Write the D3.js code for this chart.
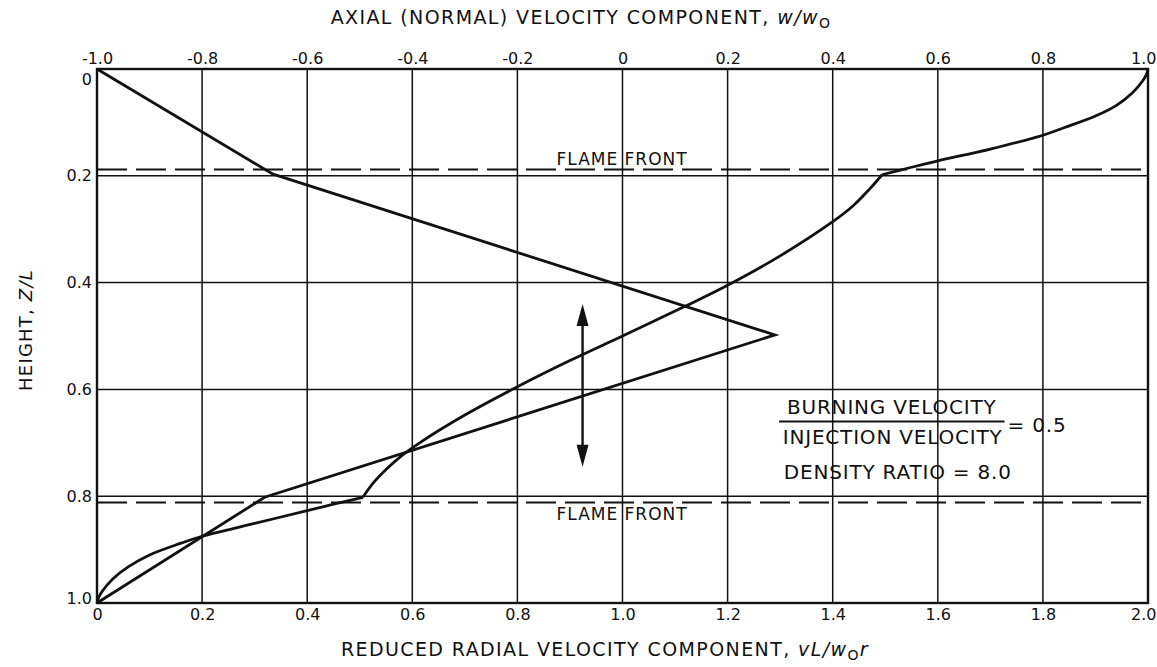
<!DOCTYPE html>
<html>
<head>
<meta charset="utf-8">
<script src="https://d3js.org/d3.v7.min.js"></script>
<style>
body { margin: 0; background: #fff; }
text { font-family: "DejaVu Sans", sans-serif; fill: #111; }
</style>
</head>
<body>
<svg id="chart" width="1157" height="667"></svg>
<script>
var radialTicks = [0, 0.2, 0.4, 0.6, 0.8, 1.0, 1.2, 1.4, 1.6, 1.8, 2.0];
var axialTicks = [-1.0, -0.8, -0.6, -0.4, -0.2, 0, 0.2, 0.4, 0.6, 0.8, 1.0];
var heightTicks = [0, 0.2, 0.4, 0.6, 0.8, 1.0];
var flameFronts = [0.188, 0.812];

// axial (normal) velocity w/w0 against height z/L  (top axis)
var axialW = [-1.0, -0.665, 0.29, -0.681, -1.0];
var axialZ = [0, 0.197, 0.498, 0.802, 1.0];

// reduced radial velocity vL/w0r against height  (bottom axis)
var radialV = [2.0, 1.997, 1.99, 1.97, 1.94, 1.9, 1.84, 1.8, 1.7, 1.6, 1.55, 1.494,
               1.47, 1.44, 1.40, 1.3, 1.2, 1.12, 1.0, 0.9, 0.8, 0.7, 0.614, 0.58, 0.55, 0.525, 0.506,
               0.45, 0.4, 0.3, 0.2, 0.16, 0.1, 0.06, 0.03, 0.01, 0.003, 0.0];
var radialZ = [0, 0.01, 0.022, 0.045, 0.068, 0.088, 0.11, 0.124, 0.15, 0.172, 0.184, 0.198,
               0.225, 0.255, 0.286, 0.35, 0.405, 0.444, 0.5, 0.546, 0.595, 0.648, 0.7, 0.724, 0.75, 0.776, 0.802,
               0.815, 0.827, 0.851, 0.875, 0.888, 0.91, 0.932, 0.955, 0.978, 0.99, 1.0];
// the radial curve has a corner where it crosses each flame front
var radialCorners = [11, 26];

var arrowV = 0.924;
var arrowZ = [0.44, 0.745];

var svg = d3.select("#chart");
var x = d3.scaleLinear().domain([0, 2]).range([97, 1148]);
var xTop = d3.scaleLinear().domain([-1, 1]).range([97, 1148]);
var y = d3.scaleLinear().domain([0, 1]).range([69, 603]);

function fmt(d) {
    if (d == 0) return "0";
    return (d < 0 ? "-" : "") + Math.abs(d).toFixed(1);
}

// grid
svg.append("g").selectAll("line").data(radialTicks).enter().append("line")
    .attr("x1", function(d) { return x(d); }).attr("x2", function(d) { return x(d); })
    .attr("y1", y(0)).attr("y2", y(1))
    .attr("stroke", "#111").attr("stroke-width", 1.5);
svg.append("g").selectAll("line").data(heightTicks).enter().append("line")
    .attr("x1", x(0)).attr("x2", x(2))
    .attr("y1", function(d) { return y(d); }).attr("y2", function(d) { return y(d); })
    .attr("stroke", "#111").attr("stroke-width", 1.5);

svg.append("rect")
    .attr("x", x(0)).attr("y", y(0))
    .attr("width", x(2) - x(0)).attr("height", y(1) - y(0))
    .attr("fill", "none").attr("stroke", "#111").attr("stroke-width", 2.4);

// flame fronts
svg.append("g").selectAll("line").data(flameFronts).enter().append("line")
    .attr("x1", x(0)).attr("x2", x(2))
    .attr("y1", function(d) { return y(d); }).attr("y2", function(d) { return y(d); })
    .attr("stroke", "#111").attr("stroke-width", 2)
    .attr("stroke-dasharray", "30,9");

// axes
function styleAxis(g) {
    g.select(".domain").remove();
    g.selectAll("text").style("font-size", "16px").attr("fill", "#111");
}
var gBottom = svg.append("g").attr("transform", "translate(0," + y(1) + ")")
    .call(d3.axisBottom(x).tickValues(radialTicks).tickSize(0).tickPadding(6).tickFormat(fmt))
    .call(styleAxis);
var gTop = svg.append("g").attr("transform", "translate(0," + y(0) + ")")
    .call(d3.axisTop(xTop).tickValues(axialTicks).tickSize(0).tickPadding(5).tickFormat(fmt))
    .call(styleAxis);
var gLeft = svg.append("g").attr("transform", "translate(" + x(0) + ",0)")
    .call(d3.axisLeft(y).tickValues(heightTicks).tickSize(0).tickPadding(5).tickFormat(fmt))
    .call(styleAxis);

// keep the end labels inside the picture and clear of each other
gBottom.selectAll(".tick text").filter(function(d) { return d == 2; })
    .attr("text-anchor", "end").attr("dx", 8);
gTop.selectAll(".tick text").filter(function(d) { return d == 1; })
    .attr("text-anchor", "end").attr("dx", 8);
gLeft.selectAll(".tick text").filter(function(d) { return d == 0; }).attr("dy", "0.95em");
gLeft.selectAll(".tick text").filter(function(d) { return d == 1; }).attr("dy", "0.05em");

// curves
var axialLine = d3.line()
    .x(function(d) { return xTop(d[0]); })
    .y(function(d) { return y(d[1]); });
svg.append("path")
    .datum(axialW.map(function(w, i) { return [w, axialZ[i]]; }))
    .attr("d", axialLine)
    .attr("fill", "none").attr("stroke", "#111").attr("stroke-width", 2.8)
    .attr("stroke-linejoin", "miter");

var radialLine = d3.line()
    .x(function(d) { return x(d[0]); })
    .y(function(d) { return y(d[1]); })
    .curve(d3.curveCatmullRom.alpha(0.5));
var radialPts = radialV.map(function(v, i) { return [v, radialZ[i]]; });
var cuts = [0].concat(radialCorners, [radialPts.length - 1]);
for (var k = 0; k < cuts.length - 1; k++) {
    svg.append("path")
        .datum(radialPts.slice(cuts[k], cuts[k + 1] + 1))
        .attr("d", radialLine)
        .attr("fill", "none").attr("stroke", "#111").attr("stroke-width", 2.8);
}

// double arrow
svg.append("line")
    .attr("x1", x(arrowV)).attr("x2", x(arrowV))
    .attr("y1", y(arrowZ[0]) + 10).attr("y2", y(arrowZ[1]) - 10)
    .attr("stroke", "#111").attr("stroke-width", 2.4);
svg.append("path")
    .attr("d", "M" + x(arrowV) + "," + y(arrowZ[0]) + "l-6,22l12,0z")
    .attr("fill", "#111");
svg.append("path")
    .attr("d", "M" + x(arrowV) + "," + y(arrowZ[1]) + "l-6,-22l12,0z")
    .attr("fill", "#111");

// labels
svg.append("text").attr("x", x(1.124)).attr("y", y(0.180))
    .attr("text-anchor", "end").style("font-size", "17px").style("letter-spacing", "1px")
    .text("FLAME FRONT");
svg.append("text").attr("x", x(1.124)).attr("y", y(0.845))
    .attr("text-anchor", "end").style("font-size", "17px").style("letter-spacing", "1px")
    .text("FLAME FRONT");

var num = svg.append("text").attr("x", x(1.313)).attr("y", y(0.646))
    .style("font-size", "20px").style("letter-spacing", "0.8px").text("BURNING VELOCITY");
var den = svg.append("text").attr("x", x(1.305)).attr("y", y(0.702))
    .style("font-size", "20px").style("letter-spacing", "0.8px").text("INJECTION VELOCITY");
var barEnd = x(1.305) + den.node().getComputedTextLength() + 2;
svg.append("line")
    .attr("x1", x(1.298)).attr("x2", barEnd)
    .attr("y1", y(0.66)).attr("y2", y(0.66))
    .attr("stroke", "#111").attr("stroke-width", 2);
svg.append("text").attr("x", barEnd + 3).attr("y", y(0.679))
    .style("font-size", "20px").style("letter-spacing", "0.8px").text("= 0.5");
svg.append("text").attr("x", x(1.307)).attr("y", y(0.768))
    .style("font-size", "20px").style("letter-spacing", "0.8px").text("DENSITY RATIO = 8.0");

// axis titles
var topTitle = svg.append("text").attr("x", 581).attr("y", 24)
    .attr("text-anchor", "middle").style("font-size", "19px").style("letter-spacing", "1.4px");
topTitle.append("tspan").text("AXIAL (NORMAL) VELOCITY COMPONENT, ");
topTitle.append("tspan").style("font-style", "italic").text("w/w");
topTitle.append("tspan").attr("dy", 4).style("font-size", "14px").text("O");

var bottomTitle = svg.append("text").attr("x", 605).attr("y", 656)
    .attr("text-anchor", "middle").style("font-size", "19px").style("letter-spacing", "1.4px");
bottomTitle.append("tspan").text("REDUCED RADIAL VELOCITY COMPONENT, ");
bottomTitle.append("tspan").style("font-style", "italic").text("vL/w");
bottomTitle.append("tspan").attr("dy", 4).style("font-size", "14px").text("O");
bottomTitle.append("tspan").attr("dy", -4).style("font-style", "italic").text("r");

var leftTitle = svg.append("text")
    .attr("transform", "translate(32,330) rotate(-90)")
    .attr("text-anchor", "middle").style("font-size", "18px").style("letter-spacing", "1.2px");
leftTitle.append("tspan").text("HEIGHT, ");
leftTitle.append("tspan").style("font-style", "italic").text("Z/L");
</script>
</body>
</html>
